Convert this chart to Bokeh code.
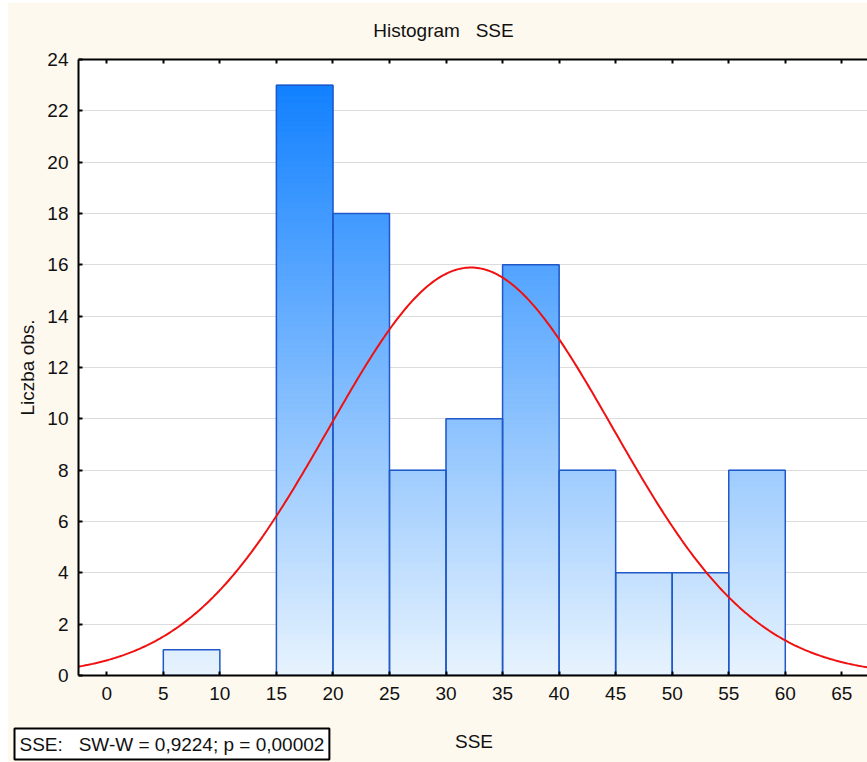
import numpy as np
from bokeh.plotting import figure
from bokeh.models import Range1d, LinearAxis, FixedTicker, Label
from bokeh.embed import file_html
from bokeh.resources import INLINE

# ---- data ----
bin_left = [0, 5, 10, 15, 20, 25, 30, 35, 40, 45, 50, 55]
bin_right = [5, 10, 15, 20, 25, 30, 35, 40, 45, 50, 55, 60]
counts = [0, 1, 0, 23, 18, 8, 10, 16, 8, 4, 4, 8]
x_ticks = [0, 5, 10, 15, 20, 25, 30, 35, 40, 45, 50, 55, 60, 65]
y_ticks = [0, 2, 4, 6, 8, 10, 12, 14, 16, 18, 20, 22, 24]
fit_mean = 32.2
fit_sd = 12.55
bin_width = 5
n_obs = sum(counts)
NBSP = "\u00a0"
title_text = "Histogram" + NBSP * 3 + "SSE"
x_label = "SSE"
y_label = "Liczba obs."
stats_text = "SSE:" + NBSP * 3 + "SW-W = 0,9224; p = 0,00002"

FONT = "Liberation Sans"
BG = "#FEF9EF"
TXT = "#111111"

p = figure(width=860, height=760, x_range=Range1d(-2.5, 67.27), y_range=Range1d(0, 24),
           output_backend="svg", toolbar_location=None)
p.margin = (2, 0, 0, 7)
p.min_border_left = 71
p.min_border_right = 0
p.min_border_top = 57
p.min_border_bottom = 87
p.border_fill_color = BG
p.background_fill_color = "white"
p.outline_line_color = None

# gradient bars built from thin strips
top_rgb = np.array([8, 124, 255])
bot_rgb = np.array([232, 243, 254])
step = 0.2
sl, sr, sb, st, sc = [], [], [], [], []
for l, r, c in zip(bin_left, bin_right, counts):
    n = int(round(c / step))
    for k in range(n):
        y0 = k * step
        y1 = min((k + 1) * step, c)
        t = ((y0 + y1) / 2) / 24.0
        rgb = bot_rgb + (top_rgb - bot_rgb) * t
        sl.append(l); sr.append(r); sb.append(y0); st.append(y1)
        sc.append("#%02x%02x%02x" % tuple(int(round(v)) for v in rgb))
p.quad(left=sl, right=sr, bottom=sb, top=st, fill_color=sc, line_color=sc, line_width=1)

# bar outlines
ol = [l for l, c in zip(bin_left, counts) if c > 0]
orr = [r for r, c in zip(bin_right, counts) if c > 0]
ot = [c for c in counts if c > 0]
p.quad(left=ol, right=orr, bottom=0, top=ot, fill_color=None, line_color="#2058C8", line_width=1.5)

# expected normal curve
xs = np.linspace(-2.5, 67.5, 400)
ys = n_obs * bin_width / (fit_sd * np.sqrt(2 * np.pi)) * np.exp(-0.5 * ((xs - fit_mean) / fit_sd) ** 2)
p.line(xs, ys, line_color="#F01010", line_width=2)

# grid
p.xgrid.grid_line_color = None
p.ygrid.grid_line_color = "#DCDCDC"
p.ygrid.grid_line_width = 1
p.ygrid.ticker = FixedTicker(ticks=y_ticks)

# axes
xa = p.xaxis[0]
xa.ticker = FixedTicker(ticks=x_ticks)
ya = p.yaxis[0]
ya.ticker = FixedTicker(ticks=y_ticks)
for ax in (xa, ya):
    ax.axis_line_color = "black"
    ax.axis_line_width = 2
    ax.major_tick_in = 4
    ax.major_tick_out = 0
    ax.major_tick_line_color = "black"
    ax.major_tick_line_width = 2
    ax.minor_tick_line_color = None
    ax.major_label_text_font = FONT
    ax.major_label_text_font_size = "19px"
    ax.major_label_text_color = TXT
    ax.axis_label_text_font = FONT
    ax.axis_label_text_font_size = "19px"
    ax.axis_label_text_font_style = "normal"
    ax.axis_label_text_color = TXT
xa.major_label_standoff = 11
ya.axis_label = y_label
ya.major_label_standoff = 10
ya.axis_label_standoff = 6

top_axis = LinearAxis(ticker=FixedTicker(ticks=x_ticks))
top_axis.axis_line_color = "black"
top_axis.axis_line_width = 2
top_axis.major_tick_in = 4
top_axis.major_tick_out = 0
top_axis.major_tick_line_width = 2
top_axis.minor_tick_line_color = None
top_axis.major_label_overrides = {t: "" for t in x_ticks}
top_axis.major_label_text_font_size = "0px"
top_axis.major_label_standoff = 0
p.add_layout(top_axis, "above")

# title (placed in the top panel, canvas coordinates)
title_lbl = Label(x=436, y=27.5, x_units="canvas", y_units="canvas", text=title_text,
                  text_font=FONT, text_font_size="19px", text_color=TXT,
                  text_align="center", text_baseline="middle")
p.add_layout(title_lbl, "above")

# x axis label (bottom panel)
xlabel_lbl = Label(x=466.5, y=739, x_units="canvas", y_units="canvas", text=x_label,
                   text_font=FONT, text_font_size="19px", text_color=TXT,
                   text_align="center", text_baseline="middle")
p.add_layout(xlabel_lbl, "below")

# stats box (bottom panel)
stats = Label(x=7, y=741.5, x_units="canvas", y_units="canvas", text=stats_text,
              text_font=FONT, text_font_size="19px", text_color=TXT,
              text_baseline="middle", text_align="left",
              background_fill_color="white", border_line_color="black", border_line_width=2,
              padding=5)
p.add_layout(stats, "below")

open("out.html", "w").write(file_html(p, INLINE))
